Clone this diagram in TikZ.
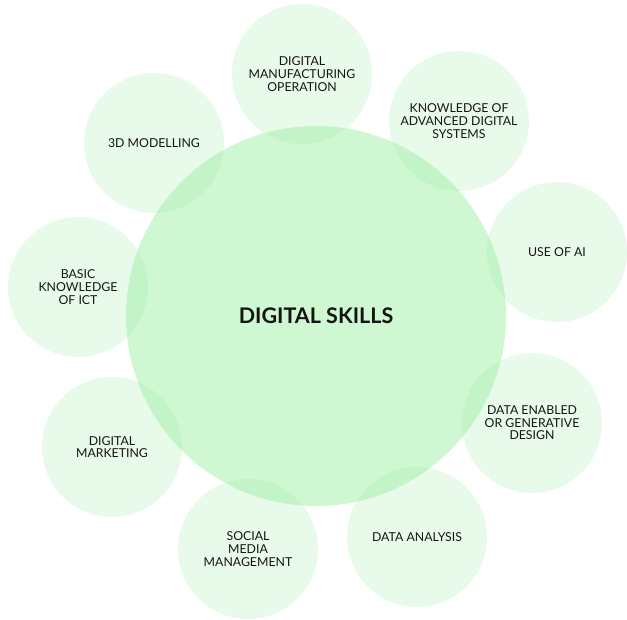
\documentclass[tikz,border=0pt]{standalone}
\usepackage{fontspec}
\setmainfont{Lato}
\definecolor{bigfill}{RGB}{207,248,210}
\definecolor{smallfill}{RGB}{160,235,165}
\definecolor{txt}{RGB}{20,20,20}
\begin{document}
\begin{tikzpicture}[x=1pt,y=-1pt,
  big/.style={circle, fill=bigfill, minimum size=380pt, inner sep=0pt, text=txt, font=\fontsize{21.5}{24}\selectfont\bfseries},
  small/.style={circle, fill=smallfill, fill opacity=0.24, text opacity=1, minimum size=140pt, inner sep=0pt, text=txt, align=center, font=\fontsize{12.3}{12.6}\selectfont}]
\useasboundingbox (0,0) rectangle (627,619);
\node[big] (c) at (316,316) {DIGITAL SKILLS};
\node[small] (dm) at (302,74) {DIGITAL\\MANUFACTURING\\OPERATION};
\node[small] (ka) at (459,121) {KNOWLEDGE OF\\ADVANCED DIGITAL\\SYSTEMS};
\node[small] (ai) at (557,252) {USE OF AI};
\node[small] (de) at (532,423) {DATA ENABLED\\OR GENERATIVE\\DESIGN};
\node[small] (da) at (417,537) {DATA ANALYSIS};
\node[small] (sm) at (248,549) {SOCIAL\\MEDIA\\MANAGEMENT};
\node[small] (mk) at (112,447) {DIGITAL\\MARKETING};
\node[small] (ict) at (78,287) {BASIC\\KNOWLEDGE\\OF ICT};
\node[small] (md) at (154,143) {3D MODELLING};
\end{tikzpicture}
\end{document}
